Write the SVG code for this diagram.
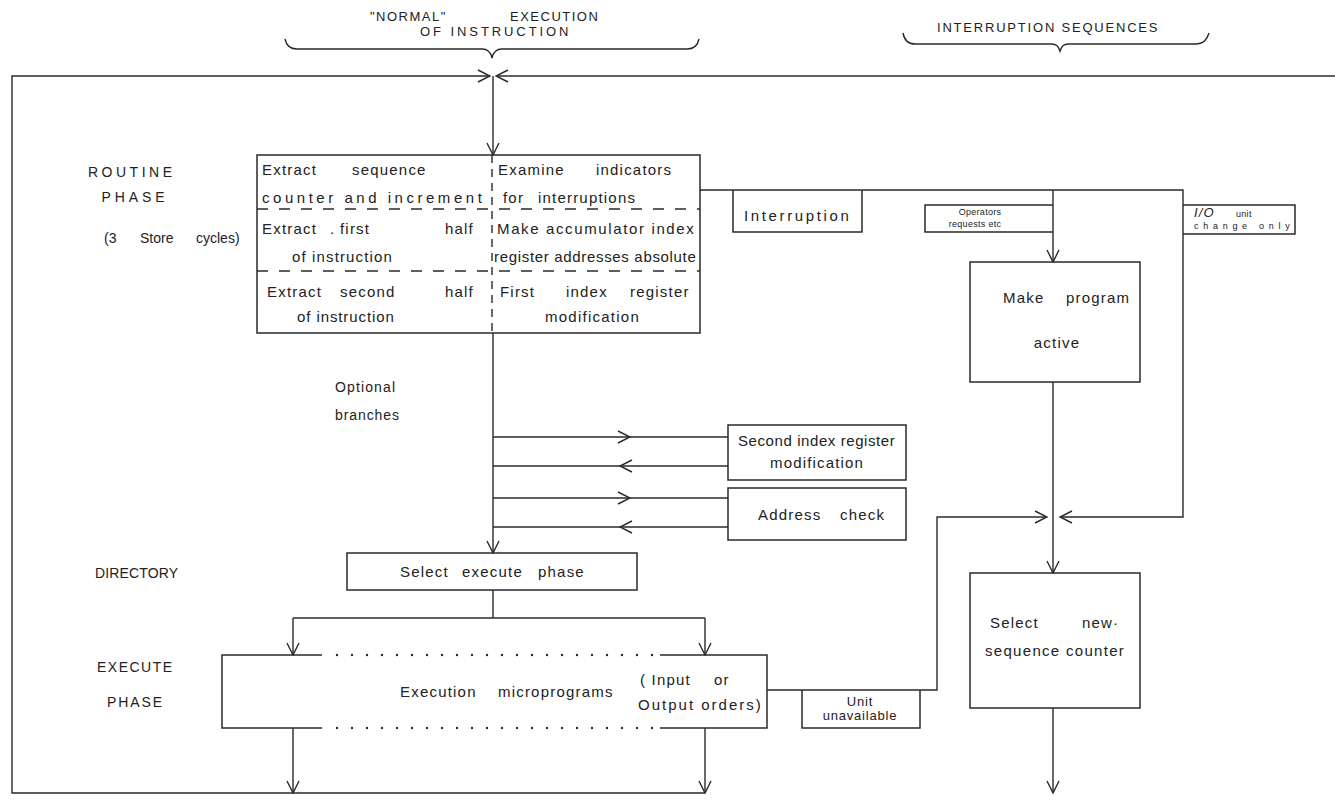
<svg xmlns="http://www.w3.org/2000/svg" width="1335" height="800" viewBox="0 0 1335 800">
<defs>
<marker id="ah" viewBox="0 0 14 14" refX="13" refY="7" markerWidth="14" markerHeight="14" markerUnits="userSpaceOnUse" orient="auto">
<path d="M1,1 L13,7 L1,13" fill="none" stroke="#2a2a2a" stroke-width="1.4"/>
</marker>
<style>
.ln{fill:none;stroke:#2a2a2a;stroke-width:1.4}
.box{fill:none;stroke:#2a2a2a;stroke-width:1.5}
.dash{fill:none;stroke:#2a2a2a;stroke-width:1.4;stroke-dasharray:11 11}
.vdash{fill:none;stroke:#2a2a2a;stroke-width:1.4;stroke-dasharray:8 6}
.dot{fill:none;stroke:#2a2a2a;stroke-width:2.4;stroke-dasharray:0 15;stroke-linecap:round}
text{font-family:"Liberation Sans",Arial,sans-serif;fill:#222;font-size:15px;letter-spacing:1.2px}
.h{font-size:13px;letter-spacing:1.5px}
.lb{font-size:14px;letter-spacing:0}
.s{font-size:9px;letter-spacing:0.3px}
.u{font-size:13px;letter-spacing:0.8px}
.m{text-anchor:middle}
</style>
</defs>
<rect width="1335" height="800" fill="#fff"/>

<g id="headers">
<text class="h" y="21"><tspan x="370">"NORMAL"</tspan><tspan x="510">EXECUTION</tspan></text>
<text class="h" x="420" y="36" textLength="150" lengthAdjust="spacing">OF INSTRUCTION</text>
<path class="ln" d="M285,39 Q287,49 297,49 L482,49 Q490,49 492,58 Q494,49 502,49 L687,49 Q697,49 699,39"/>
<text class="h" x="937" y="32" textLength="222" lengthAdjust="spacing">INTERRUPTION SEQUENCES</text>
<path class="ln" d="M903,33 Q905,44 915,44 L1052,44 Q1058,44 1060,51 Q1062,44 1068,44 L1196,44 Q1206,44 1209,33"/>
</g>

<g id="labels">
<text x="130" y="177" class="lb m" textLength="84" lengthAdjust="spacing">ROUTINE</text>
<text x="133" y="202" class="lb m" textLength="63" lengthAdjust="spacing">PHASE</text>
<text class="lb" y="243"><tspan x="104">(3</tspan><tspan x="140">Store</tspan><tspan x="196">cycles)</tspan></text>
<text x="335" y="392" class="lb" textLength="60" lengthAdjust="spacing">Optional</text>
<text x="335" y="420" class="lb" textLength="64" lengthAdjust="spacing">branches</text>
<text x="95" y="578" class="lb" textLength="83" lengthAdjust="spacing">DIRECTORY</text>
<text x="97" y="672" class="lb" textLength="75" lengthAdjust="spacing">EXECUTE</text>
<text x="107" y="707" class="lb" textLength="55" lengthAdjust="spacing">PHASE</text>
</g>

<g id="connectors">
<path class="ln" d="M705,793 H12 V76 H490" marker-end="url(#ah)"/>
<path class="ln" d="M1335,76 H496" marker-end="url(#ah)"/>
<path class="ln" d="M493,76 V155" marker-end="url(#ah)"/>
<path class="ln" d="M700,190 H1183 V517 H1060" marker-end="url(#ah)"/>
<path class="ln" d="M1053,190 V262" marker-end="url(#ah)"/>
<path class="ln" d="M1053,382 V517"/>
<path class="ln" d="M767,690 H937 V517 H1047" marker-end="url(#ah)"/>
<path class="ln" d="M1053,517 V573" marker-end="url(#ah)"/>
<path class="ln" d="M1053,708 V793" marker-end="url(#ah)"/>
<path class="ln" d="M493,333 V553" marker-end="url(#ah)"/>
<path class="ln" d="M493,437 H630" marker-end="url(#ah)"/>
<path class="ln" d="M630,437 H728"/>
<path class="ln" d="M728,466 H620" marker-end="url(#ah)"/>
<path class="ln" d="M620,466 H493"/>
<path class="ln" d="M493,498 H630" marker-end="url(#ah)"/>
<path class="ln" d="M630,498 H728"/>
<path class="ln" d="M728,527 H620" marker-end="url(#ah)"/>
<path class="ln" d="M620,527 H493"/>
<path class="ln" d="M493,590 V618"/>
<path class="ln" d="M293,618 H705"/>
<path class="ln" d="M293,618 V655" marker-end="url(#ah)"/>
<path class="ln" d="M705,618 V655" marker-end="url(#ah)"/>
<path class="ln" d="M293,728 V793" marker-end="url(#ah)"/>
<path class="ln" d="M705,728 V793" marker-end="url(#ah)"/>
</g>

<g id="routine-box">
<rect class="box" x="257" y="155" width="443" height="178"/>
<path class="dash" d="M257,209 H700 M257,271 H700"/>
<path class="vdash" d="M492,155 V333"/>
<text y="175"><tspan x="262">Extract</tspan><tspan x="352">sequence</tspan></text>
<text x="262" y="203" textLength="221" lengthAdjust="spacing">counter and increment</text>
<text y="234"><tspan x="262">Extract</tspan><tspan x="330">.</tspan><tspan x="340">first</tspan><tspan x="445">half</tspan></text>
<text x="292" y="262" textLength="101" lengthAdjust="spacing">of instruction</text>
<text y="297"><tspan x="267">Extract</tspan><tspan x="340">second</tspan><tspan x="445">half</tspan></text>
<text x="297" y="322" textLength="98" lengthAdjust="spacing">of instruction</text>
<text y="175"><tspan x="498">Examine</tspan><tspan x="596">indicators</tspan></text>
<text y="203"><tspan x="503">for</tspan><tspan x="538">interruptions</tspan></text>
<text x="497" y="234" textLength="198" lengthAdjust="spacing">Make accumulator index</text>
<text x="494" y="262" textLength="203" lengthAdjust="spacing">register addresses absolute</text>
<text y="297"><tspan x="500">First</tspan><tspan x="566">index</tspan><tspan x="630">register</tspan></text>
<text x="545" y="322" textLength="95" lengthAdjust="spacing">modification</text>
</g>

<g id="interruption">
<path class="box" d="M733,190 V232 H862 V190"/>
<text x="797" y="221" class="m" textLength="106" lengthAdjust="spacing">Interruption</text>
</g>

<g id="operators">
<path class="box" d="M1053,205 H925 V232 H1053"/>
<text x="980" y="215" class="s m">Operators</text>
<text x="975" y="227" class="s m">requests etc</text>
</g>

<g id="io-change">
<path class="box" d="M1183,205 H1295 V234 H1183"/>
<text y="217"><tspan x="1194" font-size="13" font-style="italic">I/O</tspan><tspan x="1236" class="s">unit</tspan></text>
<text x="1242" y="229" class="s m" textLength="96" lengthAdjust="spacing">change only</text>
</g>

<g id="make-active">
<rect class="box" x="970" y="262" width="170" height="120"/>
<text y="303"><tspan x="1003">Make</tspan><tspan x="1066">program</tspan></text>
<text x="1057" y="348" class="m">active</text>
</g>

<g id="second-index">
<rect class="box" x="728" y="425" width="178" height="55"/>
<text x="817" y="446" class="m" textLength="158" lengthAdjust="spacing">Second index register</text>
<text x="817" y="468" class="m" textLength="94" lengthAdjust="spacing">modification</text>
</g>

<g id="address-check">
<rect class="box" x="728" y="488" width="178" height="52"/>
<text y="520"><tspan x="758">Address</tspan><tspan x="840">check</tspan></text>
</g>

<g id="select-execute">
<rect class="box" x="347" y="553" width="290" height="37"/>
<text y="577"><tspan x="400">Select</tspan><tspan x="462">execute</tspan><tspan x="538">phase</tspan></text>
</g>

<g id="execute">
<path class="box" d="M322,655 H222 V728 H322"/>
<path class="box" d="M660,655 H767 V728 H660"/>
<path class="dot" d="M337,655 H657 M337,728 H657"/>
<text y="697"><tspan x="400">Execution</tspan><tspan x="498">microprograms</tspan></text>
<text y="685"><tspan x="640">( Input</tspan><tspan x="714">or</tspan></text>
<text x="638" y="710" textLength="124" lengthAdjust="spacing">Output orders)</text>
</g>

<g id="unit-unavailable">
<path class="box" d="M802,690 V728 H920 V690"/>
<text x="860" y="706" class="u m">Unit</text>
<text x="860" y="720" class="u m">unavailable</text>
</g>

<g id="select-new">
<rect class="box" x="970" y="573" width="170" height="135"/>
<text y="628"><tspan x="990">Select</tspan><tspan x="1082">new·</tspan></text>
<text x="985" y="656" textLength="140" lengthAdjust="spacing">sequence counter</text>
</g>
</svg>
